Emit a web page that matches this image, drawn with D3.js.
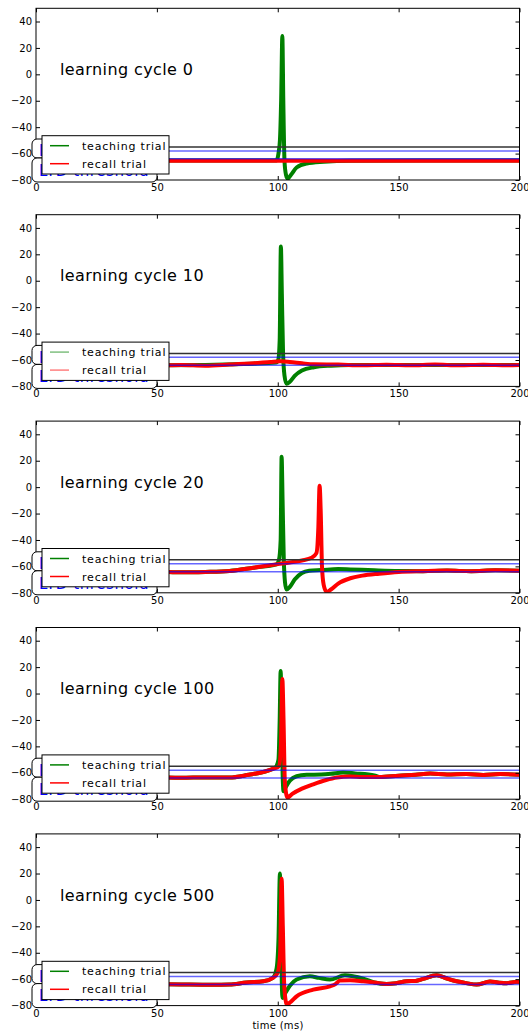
<!DOCTYPE html>
<html>
<head>
<meta charset="utf-8">
<script src="https://cdn.jsdelivr.net/npm/d3@7"></script>
<style>
  body { margin: 0; background: #fff; }
  svg text { font-family: "DejaVu Sans", sans-serif; }
</style>
</head>
<body>
<div id="chart"></div>
<script>
// Learning cycles shown, one panel each
const cycles = [0, 10, 20, 100, 500]

// Membrane potential traces [time (ms), mV]
const teach0 = [[0, -65.2], [99.5, -65.2], [100.3, -60], [100.9, -50], [101.4, -20], [101.9, 29], [102.3, -20], [102.8, -66], [103.4, -76], [104.1, -79], [105.5, -76], [107.8, -70.5], [112, -67.5], [119, -66.2], [130, -65.4], [200, -65.2]]
const recall0 = [[0, -65.4], [50, -65.4], [100, -65.4], [150, -65.4], [200, -65.4]]

const teach10 = [[0, -63.8], [50, -64], [90, -62.8], [99.3, -62], [100.2, -60], [100.8, -45], [101.3, 26], [101.7, -10], [102.2, -55], [102.8, -72], [103.6, -78], [105, -76.5], [107, -72], [110, -68], [115, -65.5], [122, -64.3], [130, -63.8], [140, -63.8], [200, -63.8]]
const recall10 = [[0, -63.5], [10, -63.8], [20, -63.5], [30, -64], [40, -63.6], [50, -64.2], [60, -63.8], [70, -64.3], [80, -63.5], [90, -62.5], [97, -61.5], [101, -61], [105, -61.5], [110, -62.5], [115, -63.3], [125, -63.5], [135, -64], [145, -63.6], [155, -64], [165, -63.5], [175, -64], [185, -63.6], [195, -64], [200, -63.8]]

const teach20 = [[0, -63.5], [10, -63.8], [20, -64.2], [30, -63.7], [40, -64.2], [50, -64], [60, -64.5], [70, -64.2], [80, -63.5], [90, -61], [99.5, -58.5], [100.5, -55], [101.2, -40], [101.6, 23], [102, -10], [102.5, -55], [103, -72], [103.6, -77.5], [105, -75.5], [107, -70], [110, -65], [113, -63.3], [118, -62.8], [125, -62], [130, -62.3], [140, -63], [150, -63.5], [160, -63.6], [170, -63.2], [180, -63.6], [190, -63], [200, -63.3]]
const recall20 = [[0, -63.5], [10, -63.8], [20, -64.2], [30, -63.7], [40, -64.2], [50, -64], [60, -64.5], [70, -64.2], [80, -63.5], [90, -61], [100, -58.3], [105, -57], [110, -55.5], [114, -53.5], [116, -50], [116.8, -30], [117.3, 1], [117.8, -20], [118.3, -60], [119, -74], [120.2, -79.3], [122, -77.5], [125, -73], [130, -69], [135, -67], [142, -65.5], [150, -64.2], [160, -63.6], [170, -63.2], [180, -63.6], [190, -63], [200, -63.3]]

const teach100 = [[0, -61], [10, -62], [20, -62.5], [30, -63], [40, -63.2], [50, -63.4], [60, -63.8], [70, -63.5], [80, -63.6], [88, -61.5], [94, -59.4], [99, -56], [100.3, -50], [100.8, -20], [101.2, 17], [101.6, -20], [102, -60], [102.4, -74], [103, -72], [105, -66], [107.8, -62.6], [112, -61.5], [118, -61.3], [122, -60.8], [127, -59.8], [132, -60.5], [140, -62], [142, -63.2], [150, -62.2], [157, -61.5], [163, -60.6], [170, -61.3], [178, -61], [185, -61.6], [192, -61], [200, -61.5]]
const recall100 = [[0, -61], [10, -62], [20, -62.5], [30, -63], [40, -63.2], [50, -63.4], [60, -63.8], [70, -63.5], [80, -63.6], [88, -61.5], [94, -59.4], [98, -57], [100.5, -55], [101.3, -40], [101.9, 11], [102.4, -20], [102.9, -65], [103.4, -75], [104, -78.7], [106, -76], [110, -72], [114.7, -68.7], [120, -65.5], [124.4, -63.6], [130, -62.8], [135, -63.2], [142, -63.2], [150, -62.2], [157, -61.5], [163, -60.6], [170, -61.3], [178, -61], [185, -61.6], [192, -61], [200, -61.5]]

const teach500 = [[0, -62], [10, -63], [20, -63.5], [30, -63.6], [40, -63.5], [50, -63.8], [60, -64], [70, -64.2], [80, -64.1], [87, -62.5], [94, -61.6], [98, -59], [99.5, -52], [100.3, -30], [100.9, 20], [101.3, -20], [101.7, -65], [102, -74.2], [103, -71], [105, -65], [107.8, -60.3], [113.3, -57.8], [117, -59], [121.6, -60.3], [127.8, -57.1], [131, -57.8], [135.4, -59.6], [140, -62.5], [145, -63.6], [149, -63], [153.3, -61.6], [157, -61.3], [160.2, -59.8], [165.7, -57], [170, -59.5], [174, -61.6], [178, -63], [182.3, -64.1], [187.8, -61.8], [191, -62.5], [194.7, -63], [198.9, -62], [200, -62.2]]
const recall500 = [[0, -62], [10, -63], [20, -63.5], [30, -63.6], [40, -63.5], [50, -63.8], [60, -64], [70, -64.2], [80, -64.1], [87, -62.5], [94, -61.6], [98, -59], [100, -55], [101, -40], [101.6, 16], [102.1, -20], [102.7, -65], [103.7, -79.2], [105.5, -77], [107.8, -73], [114.7, -67.9], [121.6, -65.4], [124, -63.5], [125.7, -61], [130, -60.8], [135.4, -61.6], [140, -62.5], [145, -63.6], [149, -63], [153.3, -61.6], [157, -61.3], [160.2, -59.8], [165.7, -57], [170, -59.5], [174, -61.6], [178, -63], [182.3, -64.1], [187.8, -61.8], [191, -62.5], [194.7, -63], [198.9, -62], [200, -62.2]]

const teaching = [teach0, teach10, teach20, teach100, teach500]
const recall = [recall0, recall10, recall20, recall100, recall500]

// Threshold levels (mV)
const spikeThreshold = -55
const ltpThreshold = -58
const ltdThreshold = -64

// Ticks
const xTicks = [0, 50, 100, 150, 200]
const yTicks = [40, 20, 0, -20, -40, -60, -80]

const drawChart = () => {
  const width = 528
  const height = 1034
  const left = 36
  const right = 519.5
  const panelTop = 8.3
  const panelStep = 206.4
  const panelHeight = 171.7

  const svg = d3.select('#chart')
    .append('svg')
    .attr('width', width)
    .attr('height', height)

  const x = d3.scaleLinear().domain([0, 200]).range([0, right - left])
  const innerWidth = right - left

  const fmt = d => d < 0 ? '\u2212' + Math.abs(d) : String(d)

  const line = (y) => d3.line()
    .x(d => x(d[0]))
    .y(d => y(d[1]))
    .curve(d3.curveMonotoneX)

  cycles.forEach((cycle, i) => {
    const top = panelTop + i * panelStep
    const y = d3.scaleLinear().domain([-80, 50]).range([panelHeight, 0])

    const g = svg.append('g')
      .attr('transform', `translate(${left}, ${top})`)

    // clip region for the traces
    svg.append('clipPath')
      .attr('id', `clip${i}`)
      .append('rect')
      .attr('width', innerWidth)
      .attr('height', panelHeight)

    const plot = g.append('g').attr('clip-path', `url(#clip${i})`)

    // Traces - teaching under recall
    plot.append('path')
      .datum(teaching[i])
      .attr('fill', 'none')
      .attr('stroke', '#008000')
      .attr('stroke-width', 4)
      .attr('stroke-linejoin', 'round')
      .attr('d', line(y))

    plot.append('path')
      .datum(recall[i])
      .attr('fill', 'none')
      .attr('stroke', '#ff0000')
      .attr('stroke-width', 4)
      .attr('stroke-linejoin', 'round')
      .attr('d', line(y))

    // Threshold lines
    plot.append('line')
      .attr('x1', 0).attr('x2', innerWidth)
      .attr('y1', y(spikeThreshold)).attr('y2', y(spikeThreshold))
      .attr('stroke', '#333')
      .attr('stroke-width', 1.5)

    ;[ltpThreshold, ltdThreshold].forEach(v => {
      plot.append('line')
        .attr('x1', 0).attr('x2', innerWidth)
        .attr('y1', y(v)).attr('y2', y(v))
        .attr('stroke', '#0000ff')
        .attr('stroke-opacity', 0.6)
        .attr('stroke-width', 1.5)
    })

    // Axes - matplotlib style inward ticks
    g.append('g')
      .attr('class', 'axis')
      .call(d3.axisLeft(y).tickValues(yTicks).tickFormat(fmt).tickSizeInner(-4).tickSizeOuter(0).tickPadding(4))
    g.append('g')
      .attr('class', 'axis')
      .attr('transform', `translate(${innerWidth}, 0)`)
      .call(d3.axisRight(y).tickValues(yTicks).tickFormat('').tickSizeInner(-4).tickSizeOuter(0))
    g.append('g')
      .attr('class', 'axis')
      .attr('transform', `translate(0, ${panelHeight})`)
      .call(d3.axisBottom(x).tickValues(xTicks).tickFormat(d3.format('d')).tickSizeInner(-4).tickSizeOuter(0).tickPadding(4))
    g.append('g')
      .attr('class', 'axis')
      .call(d3.axisTop(x).tickValues(xTicks).tickFormat('').tickSizeInner(-4).tickSizeOuter(0))

    g.selectAll('.axis .domain').remove()
    g.selectAll('.axis text')
      .attr('font-size', 10)
      .attr('fill', '#000')
    g.selectAll('.axis line').attr('stroke', '#000')

    // Frame
    g.append('rect')
      .attr('width', innerWidth)
      .attr('height', panelHeight)
      .attr('fill', 'none')
      .attr('stroke', '#000')
      .attr('stroke-width', 1)

    // Threshold labels (mostly hidden under the legend)
    const labels = [
      { text: 'LTP threshold', y0: 130.7, h: 19, base: 148.2 },
      { text: 'LTD threshold', y0: 149.7, h: 24, base: 167.5 }
    ]
    labels.forEach(l => {
      g.append('rect')
        .attr('x', -4)
        .attr('y', l.y0)
        .attr('width', 125)
        .attr('height', l.h)
        .attr('rx', 5)
        .attr('fill', '#fff')
        .attr('stroke', '#000')
        .attr('stroke-width', 1)
      g.append('text')
        .attr('x', 3)
        .attr('y', l.base)
        .attr('font-size', 15)
        .attr('letter-spacing', 0.6)
        .attr('fill', '#0000ff')
        .text(l.text)
    })

    // Title
    g.append('text')
      .attr('x', 24)
      .attr('y', 66.7)
      .attr('font-size', 16)
      .attr('letter-spacing', 0.4)
      .attr('fill', '#000')
      .text(`learning cycle ${cycle}`)

    // Legend
    const lg = g.append('g').attr('transform', 'translate(6, 127.4)')
    lg.append('rect')
      .attr('width', 127)
      .attr('height', 38.3)
      .attr('fill', '#fff')
      .attr('stroke', '#000')
      .attr('stroke-width', 1)
    const items = [
      { label: 'teaching trial', color: '#008000', dy: 10 },
      { label: 'recall trial', color: '#ff0000', dy: 28 }
    ]
    items.forEach(it => {
      lg.append('line')
        .attr('x1', 8).attr('x2', 27)
        .attr('y1', it.dy).attr('y2', it.dy)
        .attr('stroke', it.color)
        .attr('stroke-opacity', i === 1 ? 0.5 : 1)
        .attr('stroke-width', 1.5)
      lg.append('text')
        .attr('x', 40)
        .attr('y', it.dy + 4)
        .attr('font-size', 11)
        .attr('letter-spacing', 0.8)
        .attr('fill', '#000')
        .text(it.label)
    })
  })

  // x axis label on the last panel
  svg.append('text')
    .attr('x', 278)
    .attr('y', 1029)
    .attr('text-anchor', 'middle')
    .attr('font-size', 10)
    .attr('letter-spacing', 0.3)
    .text('time (ms)')
}

drawChart()
</script>
</body>
</html>
